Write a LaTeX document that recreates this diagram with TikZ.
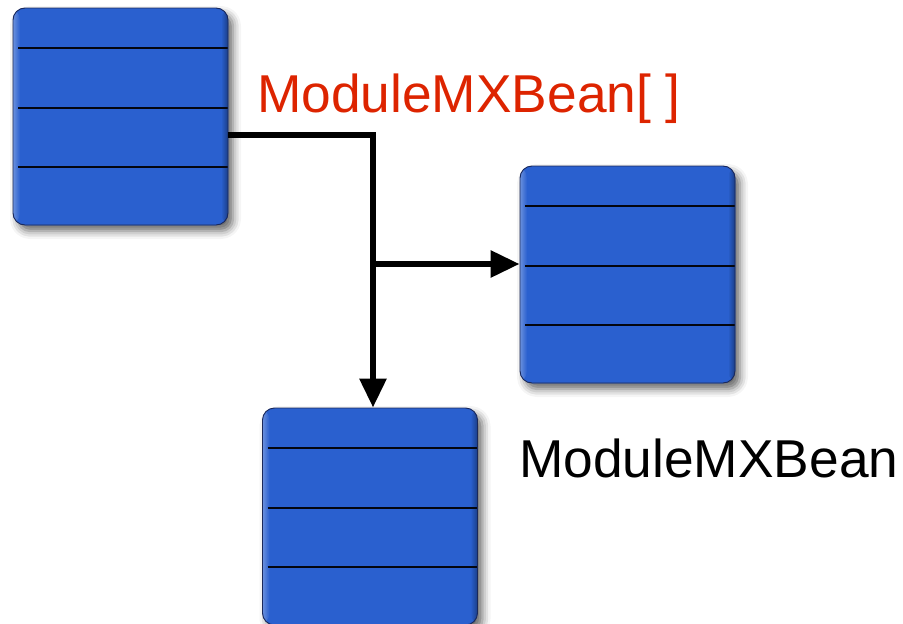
\documentclass[tikz,border=0pt]{standalone}
\usepackage{fontspec}
\setmainfont{Liberation Sans}
\usetikzlibrary{arrows.meta,shadows.blur,fadings}

\definecolor{bxmain}{RGB}{42,96,207}
\definecolor{bxlight}{RGB}{112,150,232}
\definecolor{bxdark}{RGB}{18,40,112}
\definecolor{bxedge}{RGB}{26,40,90}
\definecolor{lblred}{RGB}{221,36,0}

% vertical profile of a box face: dark rim at the bottom, bright rim at the top
\pgfdeclareverticalshading{boxface}{100bp}{%
  color(0bp)=(bxdark); color(1.5bp)=(bxdark!75!bxmain); color(5.5bp)=(bxmain);
  color(93bp)=(bxmain); color(98bp)=(bxlight!70!bxmain); color(99.5bp)=(bxlight);
  color(100bp)=(bxlight)}

\tikzset{
  rowline/.style={line width=1.3pt, black!85!bxedge},
  tablebox/.style={
    rectangle, rounded corners=12pt, minimum width=215pt, minimum height=217pt,
    inner sep=0pt, fill=bxmain, draw=bxedge, line width=0.9pt,
    blur shadow={shadow xshift=5pt, shadow yshift=-6pt, shadow blur radius=8pt,
                 shadow opacity=60},
    path picture={
      \fill[shading=boxface]
        (path picture bounding box.south west) rectangle
        (path picture bounding box.north east);
      % soft light rim on the left, soft dark rim on the right
      \fill[white, fill opacity=0.3, path fading=east]
        (path picture bounding box.south west) rectangle
        ([xshift=7pt]path picture bounding box.north west);
      \fill[black, fill opacity=0.35, path fading=west]
        ([xshift=-7pt]path picture bounding box.south east) rectangle
        (path picture bounding box.north east);
      \foreach \d in {40,100,159}
        \draw[rowline]
          ([xshift=5pt,yshift=-\d pt]path picture bounding box.north west) --
          ([yshift=-\d pt]path picture bounding box.north east);
    }},
  conn/.style={line width=6pt, line join=miter, black},
  tip/.style={-{Triangle[length=29pt,width=26pt]}},
  label/.style={inner sep=0pt, anchor=base west,
                font=\fontsize{53.3pt}{60pt}\selectfont}
}

\begin{document}
\begin{tikzpicture}[x=1pt,y=-1pt]
  \useasboundingbox (0,0) rectangle (903,624);

  % the three tables
  \node[tablebox] (b1) at (120.5,116.5) {};
  \node[tablebox] (b2) at (627.5,274.5) {};
  \node[tablebox] (b3) at (370,516.5) {};

  % labels
  \node[label, text=lblred] (arr) at (257,112) {ModuleMXBean[ ]};
  \node[label, text=black] (one) at (519,477) {ModuleMXBean};

  % connector: out of the first table, then down and across
  \coordinate (j1) at (373,135);
  \coordinate (j2) at (373,264);
  \draw[conn] (b1.east |- j1) -- (j1) -- (j2);
  \draw[conn, tip] (j2) -- (j2 -| b2.west);
  \draw[conn, tip] (j2) -- (j2 |- b3.north);
\end{tikzpicture}
\end{document}
